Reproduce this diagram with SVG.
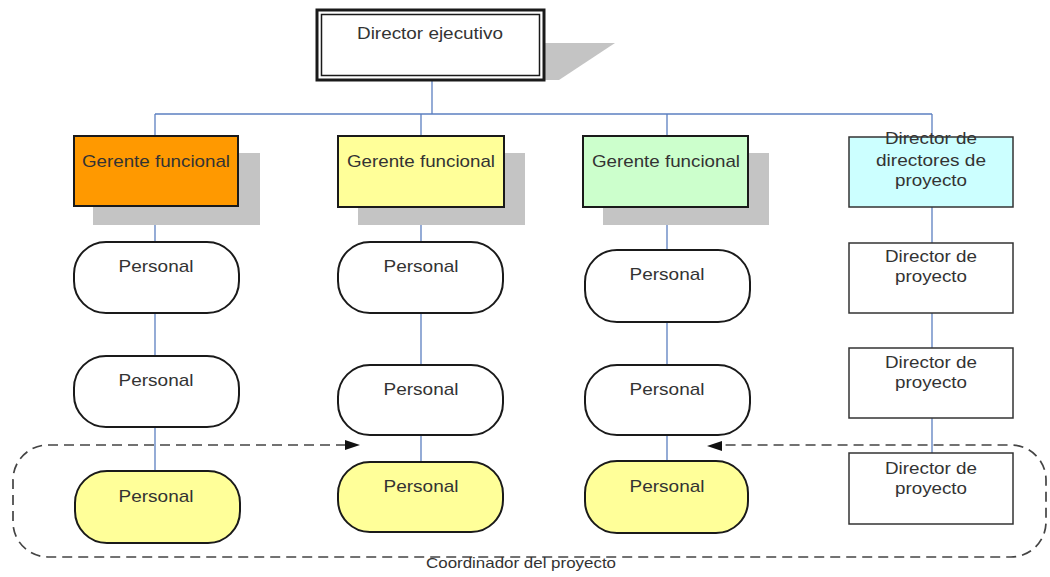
<svg xmlns="http://www.w3.org/2000/svg" width="1050" height="577" viewBox="0 0 1050 577">
  <style>
    .t { font-family: "Liberation Sans", Arial, sans-serif; font-size: 17px; fill: #333; text-anchor: middle; }
    .lbl { font-family: "Liberation Sans", Arial, sans-serif; font-size: 14.5px; fill: #333; text-anchor: middle; }
    .box { stroke: #1a1a1a; stroke-width: 2; }
    .pm { stroke: #333; stroke-width: 1.5; fill: #fff; }
    .pill { stroke: #1a1a1a; stroke-width: 2; }
    .shadow { fill: #c4c4c4; }
    .link { stroke: #5b7fc0; stroke-width: 1.3; fill: none; }
    .dash { stroke: #444; stroke-width: 1.7; fill: none; stroke-dasharray: 10 6; }
  </style>

  <!-- connectors -->
  <g id="connectors">
    <line class="link" x1="432" y1="81" x2="432" y2="114"/>
    <line class="link" x1="155" y1="114" x2="932" y2="114"/>
    <!-- column 1 -->
    <line class="link" x1="155" y1="114" x2="155" y2="136"/>
    <line class="link" x1="155" y1="206" x2="155" y2="242"/>
    <line class="link" x1="155" y1="313" x2="155" y2="356"/>
    <line class="link" x1="155" y1="427" x2="155" y2="471"/>
    <!-- column 2 -->
    <line class="link" x1="421" y1="114" x2="421" y2="136"/>
    <line class="link" x1="421" y1="207" x2="421" y2="242"/>
    <line class="link" x1="421" y1="313" x2="421" y2="365"/>
    <line class="link" x1="421" y1="435" x2="421" y2="462"/>
    <!-- column 3 -->
    <line class="link" x1="667" y1="114" x2="667" y2="136"/>
    <line class="link" x1="667" y1="207" x2="667" y2="250"/>
    <line class="link" x1="667" y1="322" x2="667" y2="365"/>
    <line class="link" x1="667" y1="435" x2="667" y2="461"/>
    <!-- column 4 -->
    <line class="link" x1="932" y1="114" x2="932" y2="137"/>
    <line class="link" x1="932" y1="207" x2="932" y2="243"/>
    <line class="link" x1="932" y1="313" x2="932" y2="348"/>
    <line class="link" x1="932" y1="418" x2="932" y2="453"/>
  </g>

  <!-- project coordination loop -->
  <g id="coordinacion">
    <path class="dash" d="M 346 445 H 48 A 35 35 0 0 0 13 480 V 522 A 35 35 0 0 0 48 557 H 1011 A 35 35 0 0 0 1046 522 V 480 A 35 35 0 0 0 1011 445 H 721"/>
    <polygon points="345,440 360,445 345,450" fill="#111"/>
    <polygon points="722,441 707,446 722,451" fill="#111"/>
    <text class="lbl" x="521" y="568" textLength="190" lengthAdjust="spacingAndGlyphs">Coordinador del proyecto</text>
  </g>

  <!-- top -->
  <g id="director-ejecutivo">
    <polygon class="shadow" points="545,43 615,43 559,80 545,80"/>
    <rect x="317" y="10" width="227" height="70" fill="#fff" stroke="#1a1a1a" stroke-width="3"/>
    <rect x="321.5" y="14.5" width="218" height="61" fill="none" stroke="#1a1a1a" stroke-width="1.5"/>
    <text class="t" x="430" y="39" textLength="146" lengthAdjust="spacingAndGlyphs">Director ejecutivo</text>
  </g>

  <!-- functional managers -->
  <g id="gerente-1">
    <rect class="shadow" x="93" y="153" width="167" height="72"/>
    <rect class="box" x="74" y="136" width="164" height="70" fill="#ff9900"/>
    <text class="t" x="156" y="167" textLength="148" lengthAdjust="spacingAndGlyphs">Gerente funcional</text>
  </g>
  <g id="gerente-2">
    <rect class="shadow" x="358" y="153" width="167" height="72"/>
    <rect class="box" x="338" y="136" width="166" height="71" fill="#ffff99"/>
    <text class="t" x="421" y="167" textLength="148" lengthAdjust="spacingAndGlyphs">Gerente funcional</text>
  </g>
  <g id="gerente-3">
    <rect class="shadow" x="603" y="153" width="166" height="72"/>
    <rect class="box" x="583" y="136" width="165" height="71" fill="#ccffcc"/>
    <text class="t" x="666" y="167" textLength="148" lengthAdjust="spacingAndGlyphs">Gerente funcional</text>
  </g>
  <g id="director-directores">
    <rect class="pm" x="849" y="137" width="164" height="70" style="fill:#ccffff"/>
    <text class="t" x="931" y="144" textLength="92" lengthAdjust="spacingAndGlyphs">Director de</text>
    <text class="t" x="931" y="166" textLength="110" lengthAdjust="spacingAndGlyphs">directores de</text>
    <text class="t" x="931" y="186" textLength="72" lengthAdjust="spacingAndGlyphs">proyecto</text>
  </g>

  <!-- staff, column 1 -->
  <g id="personal-1-1">
    <rect class="pill" x="74" y="242" width="165" height="71" rx="32" fill="#fff"/>
    <text class="t" x="156" y="272" textLength="75" lengthAdjust="spacingAndGlyphs">Personal</text>
  </g>
  <g id="personal-1-2">
    <rect class="pill" x="74" y="356" width="165" height="71" rx="32" fill="#fff"/>
    <text class="t" x="156" y="386" textLength="75" lengthAdjust="spacingAndGlyphs">Personal</text>
  </g>
  <g id="personal-1-3">
    <rect class="pill" x="75" y="471" width="165" height="72" rx="32" fill="#ffff99"/>
    <text class="t" x="156" y="502" textLength="75" lengthAdjust="spacingAndGlyphs">Personal</text>
  </g>

  <!-- staff, column 2 -->
  <g id="personal-2-1">
    <rect class="pill" x="338" y="242" width="165" height="71" rx="32" fill="#fff"/>
    <text class="t" x="421" y="272" textLength="75" lengthAdjust="spacingAndGlyphs">Personal</text>
  </g>
  <g id="personal-2-2">
    <rect class="pill" x="338" y="365" width="165" height="70" rx="32" fill="#fff"/>
    <text class="t" x="421" y="395" textLength="75" lengthAdjust="spacingAndGlyphs">Personal</text>
  </g>
  <g id="personal-2-3">
    <rect class="pill" x="338" y="462" width="165" height="70" rx="32" fill="#ffff99"/>
    <text class="t" x="421" y="492" textLength="75" lengthAdjust="spacingAndGlyphs">Personal</text>
  </g>

  <!-- staff, column 3 -->
  <g id="personal-3-1">
    <rect class="pill" x="585" y="250" width="165" height="72" rx="32" fill="#fff"/>
    <text class="t" x="667" y="280" textLength="75" lengthAdjust="spacingAndGlyphs">Personal</text>
  </g>
  <g id="personal-3-2">
    <rect class="pill" x="585" y="365" width="165" height="70" rx="32" fill="#fff"/>
    <text class="t" x="667" y="395" textLength="75" lengthAdjust="spacingAndGlyphs">Personal</text>
  </g>
  <g id="personal-3-3">
    <rect class="pill" x="585" y="461" width="163" height="72" rx="32" fill="#ffff99"/>
    <text class="t" x="667" y="492" textLength="75" lengthAdjust="spacingAndGlyphs">Personal</text>
  </g>

  <!-- project managers -->
  <g id="director-proyecto-1">
    <rect class="pm" x="849" y="243" width="164" height="70"/>
    <text class="t" x="931" y="262" textLength="92" lengthAdjust="spacingAndGlyphs">Director de</text>
    <text class="t" x="931" y="282" textLength="72" lengthAdjust="spacingAndGlyphs">proyecto</text>
  </g>
  <g id="director-proyecto-2">
    <rect class="pm" x="849" y="348" width="164" height="70"/>
    <text class="t" x="931" y="368" textLength="92" lengthAdjust="spacingAndGlyphs">Director de</text>
    <text class="t" x="931" y="388" textLength="72" lengthAdjust="spacingAndGlyphs">proyecto</text>
  </g>
  <g id="director-proyecto-3">
    <rect class="pm" x="849" y="453" width="164" height="71"/>
    <text class="t" x="931" y="474" textLength="92" lengthAdjust="spacingAndGlyphs">Director de</text>
    <text class="t" x="931" y="494" textLength="72" lengthAdjust="spacingAndGlyphs">proyecto</text>
  </g>
</svg>
